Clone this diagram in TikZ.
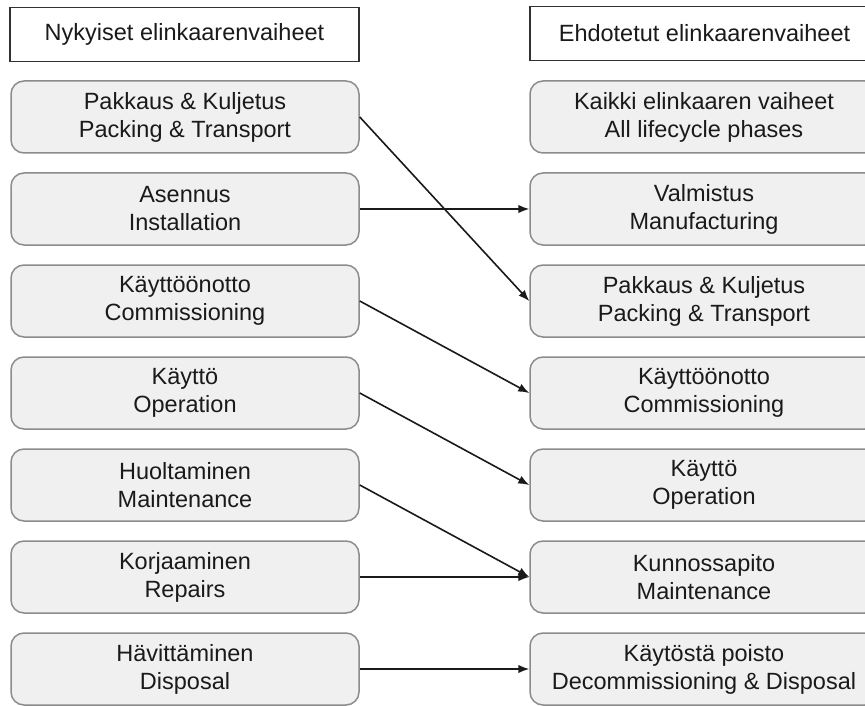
\documentclass[tikz,border=0pt]{standalone}
\usepackage{fontspec}
\setmainfont{Liberation Sans}
\usetikzlibrary{arrows.meta}

\definecolor{boxfill}{HTML}{F0F0F0}
\definecolor{boxline}{HTML}{8C8C8C}
\definecolor{ink}{HTML}{1A1A1A}

\tikzset{
  phase/.style={draw=boxline, fill=boxfill, line width=1.5pt, rounded corners=13pt,
    minimum width=348pt, minimum height=72pt, inner sep=0pt, align=center,
    font=\fontsize{23.5}{28}\selectfont, text=ink},
  header/.style={draw=ink!90, fill=white, line width=1.5pt,
    minimum width=349pt, minimum height=54pt, inner sep=0pt,
    font=\fontsize{23.5}{28}\selectfont, text=ink},
  link/.style={draw=ink, line width=1.6pt, -{Latex[length=11pt,width=8.5pt]}}
}

\begin{document}
\begin{tikzpicture}[x=1pt,y=-1pt]
  \useasboundingbox (0,0) rectangle (865,706);
  \clip (0,0) rectangle (865,706);
  \fill[white] (0,0) rectangle (865,706);

  % column headers
  \node[header] (hL) at (184.5,34.5) {Nykyiset elinkaarenvaiheet};
  \node[header] (hR) at (704.5,33.5) {Ehdotetut elinkaarenvaiheet};

  % current lifecycle phases
  \node[phase] (L1) at (185,117) {Pakkaus \& Kuljetus\\Packing \& Transport};
  \node[phase] (L2) at (185,209) {Asennus\\Installation};
  \node[phase] (L3) at (185,301) {Käyttöönotto\\Commissioning};
  \node[phase] (L4) at (185,393) {Käyttö\\Operation};
  \node[phase] (L5) at (185,485) {Huoltaminen\\Maintenance};
  \node[phase] (L6) at (185,577) {Korjaaminen\\Repairs};
  \node[phase] (L7) at (185,669) {Hävittäminen\\Disposal};

  % proposed lifecycle phases
  \node[phase] (R1) at (704,117) {Kaikki elinkaaren vaiheet\\All lifecycle phases};
  \node[phase] (R2) at (704,209) {Valmistus\\Manufacturing};
  \node[phase] (R3) at (704,301) {Pakkaus \& Kuljetus\\Packing \& Transport};
  \node[phase] (R4) at (704,393) {Käyttöönotto\\Commissioning};
  \node[phase] (R5) at (704,485) {Käyttö\\Operation};
  \node[phase] (R6) at (704,577) {Kunnossapito\\Maintenance};
  \node[phase] (R7) at (704,669) {Käytöstä poisto\\Decommissioning \& Disposal};

  % mapping between the two sets
  \draw[link] (L1.east) -- (R3.west);
  \draw[link] (L2.east) -- (R2.west);
  \draw[link] (L3.east) -- (R4.west);
  \draw[link] (L4.east) -- (R5.west);
  \draw[link] (L5.east) -- (R6.west);
  \draw[link] (L6.east) -- (R6.west);
  \draw[link] (L7.east) -- (R7.west);
\end{tikzpicture}
\end{document}
